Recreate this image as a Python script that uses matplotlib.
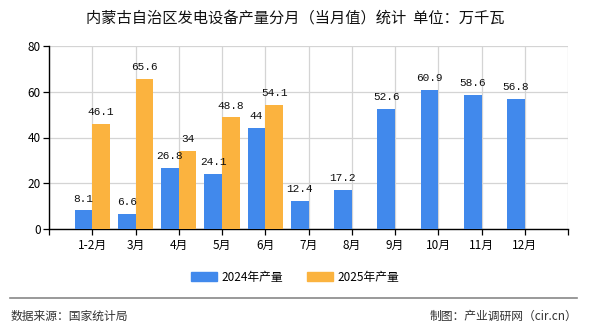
import matplotlib
matplotlib.use("Agg")
import matplotlib.pyplot as plt
from matplotlib.patches import Patch
from matplotlib.lines import Line2D
import numpy as np

plt.rcParams['font.family'] = ['Noto Sans CJK SC', 'DejaVu Sans']

categories = ["1-2月", "3月", "4月", "5月", "6月", "7月", "8月", "9月", "10月", "11月", "12月"]
values_2024 = [8.1, 6.6, 26.8, 24.1, 44, 12.4, 17.2, 52.6, 60.9, 58.6, 56.8]
values_2025 = [46.1, 65.6, 34, 48.8, 54.1]
series_names = ["2024年产量", "2025年产量"]
title = "内蒙古自治区发电设备产量分月（当月值）统计  单位：万千瓦"
yticks = [0, 20, 40, 60, 80]

c24 = "#4189EC"
c25 = "#FBB33F"

fig = plt.figure(figsize=(5.9, 3.3), dpi=100)
ax = fig.add_axes([49/590, 1-229/330, (568-49)/590, (229-46)/330])

x = np.arange(len(categories))
w = 0.41
ax.bar(x - w/2, values_2024, w, color=c24, zorder=3)
x25 = np.arange(len(values_2025))
ax.bar(x25 + w/2, values_2025, w, color=c25, zorder=3)

lab_font = dict(family=['Liberation Mono', 'DejaVu Sans Mono'], fontsize=8, color="#111111")
for xi, v in zip(x, values_2024):
    ax.text(xi - w/2, v + 3, f"{v:g}", ha="center", va="bottom", zorder=4, **lab_font)
for xi, v in zip(x25, values_2025):
    ax.text(xi + w/2, v + 3, f"{v:g}", ha="center", va="bottom", zorder=4, **lab_font)

ax.set_xlim(-1, len(categories))
ax.set_ylim(0, 80)
ax.set_yticks(yticks)
ax.set_xticks(np.arange(-1, len(categories) + 1))
ax.set_xticklabels([""] + categories + [""])
ax.grid(True, color="#d4d4d4", linewidth=0.9, zorder=0)
ax.set_axisbelow(True)
for s in ["top", "right"]:
    ax.spines[s].set_visible(False)
for s in ["left", "bottom"]:
    ax.spines[s].set_color("#000000")
    ax.spines[s].set_linewidth(1.0)
ax.tick_params(axis="both", length=4, width=0.9, color="#000000", labelsize=8.5, pad=2)
ax.tick_params(axis="x", pad=3)

fig.text(0.5, 1-18/330, title, ha="center", va="center", fontsize=11, color="#111111")

handles = [Patch(color=c24, label=series_names[0]), Patch(color=c25, label=series_names[1])]
fig.legend(handles=handles, loc="center", bbox_to_anchor=(0.5, 1-277/330), ncol=2,
           frameon=False, fontsize=8.5, handlelength=2.2, handleheight=0.9,
           handletextpad=0.4, columnspacing=2.0)

fig.add_artist(Line2D([10/590, 577/590], [1-298/330, 1-298/330], color="#888888", linewidth=1.2))
fig.text(11/590, 1-316/330, "数据来源：国家统计局", ha="left", va="center", fontsize=8.5, color="#333333")
fig.text(577/590, 1-316/330, "制图：产业调研网（cir.cn）", ha="right", va="center", fontsize=8.5, color="#333333")

fig.savefig("out.png", dpi=100)
